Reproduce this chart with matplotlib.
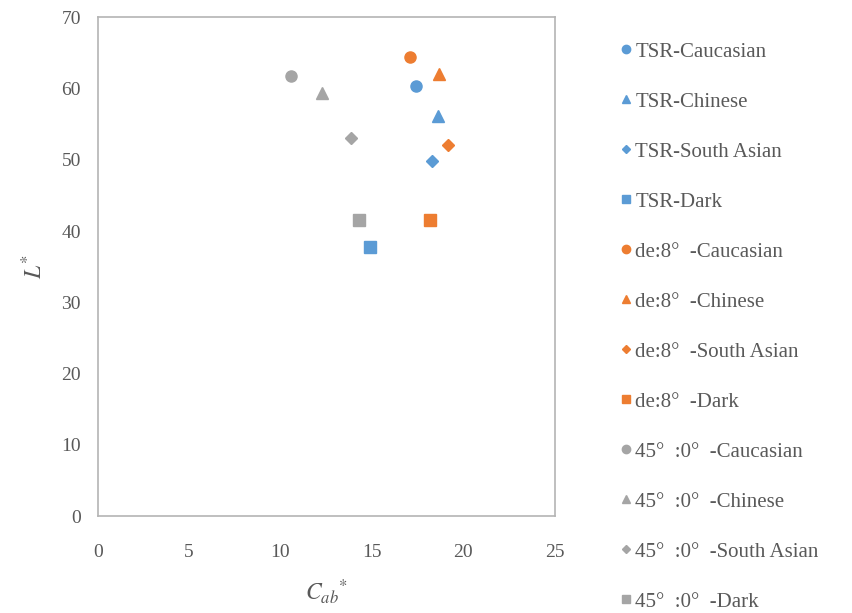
import matplotlib.pyplot as plt

plt.rcParams['font.family'] = ['Liberation Serif', 'DejaVu Serif']
plt.rcParams['mathtext.fontset'] = 'stix'

# C*ab and L*
groups = ['TSR', 'de:8°  ', '45°  :0°  ']
skins = ['Caucasian', 'Chinese', 'South Asian', 'Dark']
cab = [
    [17.4, 18.6, 18.3, 14.9],   # TSR
    [17.1, 18.7, 19.15, 18.2],  # de:8
    [10.6, 12.3, 13.85, 14.3],  # 45:0
]
lstar = [
    [60.3, 56.2, 49.8, 37.8],
    [64.4, 62.0, 52.1, 41.6],
    [61.8, 59.4, 53.1, 41.6],
]
colors = ['#5B9BD5', '#ED7D31', '#A5A5A5']
markers = ['o', '^', 'D', 's']
msizes = [8, 8, 6, 8]

fig = plt.figure(figsize=(8.52, 6.13), dpi=100)
ax = fig.add_axes([0.1146, 0.158, 0.5364, 0.814])

for g in range(3):
    for k in range(4):
        ax.plot(cab[g][k], lstar[g][k], linestyle='none', marker=markers[k],
                markersize=msizes[k], color=colors[g],
                label=groups[g] + '-' + skins[k])

ax.set_xlim(0, 25)
ax.set_ylim(0, 70)
ax.set_xticks(range(0, 26, 5))
ax.set_yticks(range(0, 71, 10))
ax.tick_params(length=0, labelsize=14, colors='#595959')
ax.tick_params(axis='y', pad=12)
ax.tick_params(axis='x', pad=20)
for s in ax.spines.values():
    s.set_color('#B4B4B4')
    s.set_linewidth(1.2)

ax.set_xlabel(r'$C_{ab}{}^{*}$', fontsize=17, color='#595959', labelpad=12)
ax.set_ylabel(r'$L^{*}$', fontsize=17, color='#595959', labelpad=10)

leg = ax.legend(loc='upper left', bbox_to_anchor=(0.71, 0.955),
                bbox_transform=fig.transFigure, frameon=False,
                fontsize=15, labelspacing=1.46, handlelength=0.6,
                handletextpad=0.15, markerscale=0.75, borderpad=0.2)
for t in leg.get_texts():
    t.set_color('#595959')

fig.savefig('out.png', dpi=100)
